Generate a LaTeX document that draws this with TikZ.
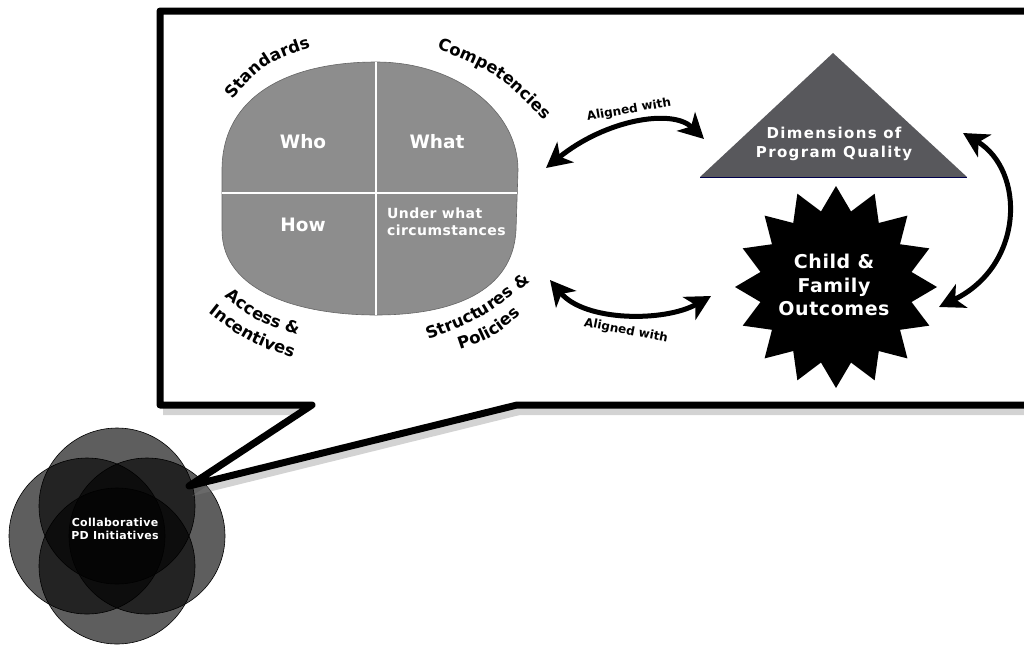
\documentclass[tikz,border=0pt]{standalone}
\usepackage{fontspec}
\setmainfont{DejaVu Sans}
\newfontfamily\spacedfont[LetterSpace=3]{DejaVu Sans}
\newfontfamily\widefont[LetterSpace=9]{DejaVu Sans}
\usetikzlibrary{arrows.meta,decorations.text,shadows}
\definecolor{blobgray}{RGB}{141,141,141}
\definecolor{trigray}{RGB}{88,88,92}
\newcommand\lab{\bfseries\fontsize{16.5}{16.5}\selectfont}
\tikzset{
  dblarrow/.style={line width=5pt,
    {Stealth[length=25pt,width=26pt,inset=7pt]}-{Stealth[length=25pt,width=26pt,inset=7pt]}},
  wtext/.style={text=white, inner sep=0pt},
  venn/.style={fill=black, fill opacity=0.63, draw=black, line width=0.6pt},
  curvelab/.style={decorate, decoration={text along path, text align=center, text={|\lab|#1}}},
  alignlab/.style={font=\bfseries\fontsize{12}{12}\selectfont, inner sep=0pt},
  divider/.style={draw=white, line width=1.1pt},
}
\begin{document}
\begin{tikzpicture}[x=1pt,y=-1pt]
\useasboundingbox (0,0) rectangle (1024,646);
\clip (0,0) rectangle (1024,646);

% Venn circles
\draw[venn] (117,506) circle (78);
\draw[venn] (117,566) circle (78);
\draw[venn] (87,536) circle (78);
\draw[venn] (147,536) circle (78);
\node[wtext, align=center, font=\spacedfont\bfseries\fontsize{11}{12.5}\selectfont] (pd) at (115,529) {Collaborative\\PD Initiatives};

% callout box
\path[fill=white, draw=black, line width=7pt, line join=round,
      drop shadow={opacity=0.35, shadow xshift=3pt, shadow yshift=-10pt}]
  (517,405) -- (1040,405) -- (1040,11) -- (160,11) -- (160,405) -- (312,405) -- (189,486) -- cycle;

% blob
\path[fill=blobgray, draw=black!60, line width=0.6pt]
  (376,62) .. controls (290,62) and (222,95) .. (222,170) -- (222,230)
  .. controls (222,292) and (300,315) .. (376,315)
  .. controls (452,315) and (513,292) .. (516,230) -- (518,170)
  .. controls (518,110) and (455,62) .. (376,62) -- cycle;
\coordinate (blob) at (370,190);
\draw[divider] (376,62) -- (376,315);
\draw[divider] (222,193) -- (517,193);
\node[wtext, font=\bfseries\fontsize{18.5}{18.5}\selectfont] (who) at (303,142) {Who};
\node[wtext, font=\bfseries\fontsize{18.5}{18.5}\selectfont] (what) at (437,142) {What};
\node[wtext, font=\bfseries\fontsize{18.5}{18.5}\selectfont] (how) at (303,225) {How};
\node[wtext, anchor=west, align=left, font=\spacedfont\bfseries\fontsize{14}{17}\selectfont] (uwc) at (387,222) {Under what\\circumstances};

% curved labels
\path[curvelab={Standards}] (225,108) .. controls (265,62) .. (322,44);
\path[curvelab={Competencies}] (424,44) .. controls (497,72) .. (554,130);
\path[curvelab={Access {\&}}] (214,288) .. controls (257,323) .. (311,339);
\path[curvelab={Incentives}] (197,303) .. controls (246,342) .. (307,363);
\path[curvelab={Structures {\&}}] (417,344) .. controls (483,319) .. (540,274);
\path[curvelab={Policies}] (442,355) .. controls (493,339) .. (535,302);

% triangle
\path[fill=trigray] (833,53) -- (967,177) -- (700,177) -- cycle;
\draw[draw=black!70!blue, line width=0.8pt] (700,177) -- (967,177);
\node[wtext, align=center, font=\widefont\bfseries\fontsize{15}{19}\selectfont] (dim) at (834,144) {Dimensions of\\Program Quality};

% star
\begin{scope}[shift={(836,287)}]
\fill[black] (90:101) \foreach \i in {1,...,16} { -- ({90+\i*22.5-11.25}:77) -- ({90+\i*22.5}:101) } -- cycle;
\end{scope}
\node[wtext, align=center, font=\spacedfont\bfseries\fontsize{19}{23.5}\selectfont] (cfo) at (834,285) {Child \&\\Family\\Outcomes};

% arrows
\coordinate (t1) at (546,168);
\coordinate (t2) at (704,139);
\coordinate (b1) at (550,280);
\coordinate (b2) at (711,296);
\coordinate (r1) at (963,133);
\coordinate (r2) at (939,307);
\draw[dblarrow] (t1) .. controls (605,120) and (672,108) .. (t2);
\draw[dblarrow] (b1) .. controls (585,322) and (665,322) .. (b2);
\draw[dblarrow] (r1) .. controls (1025,170) and (1025,265) .. (r2);
\node[alignlab, rotate=10] (al1) at (629,110) {Aligned with};
\node[alignlab, rotate=-11] (al2) at (626,331) {Aligned with};
\end{tikzpicture}
\end{document}
